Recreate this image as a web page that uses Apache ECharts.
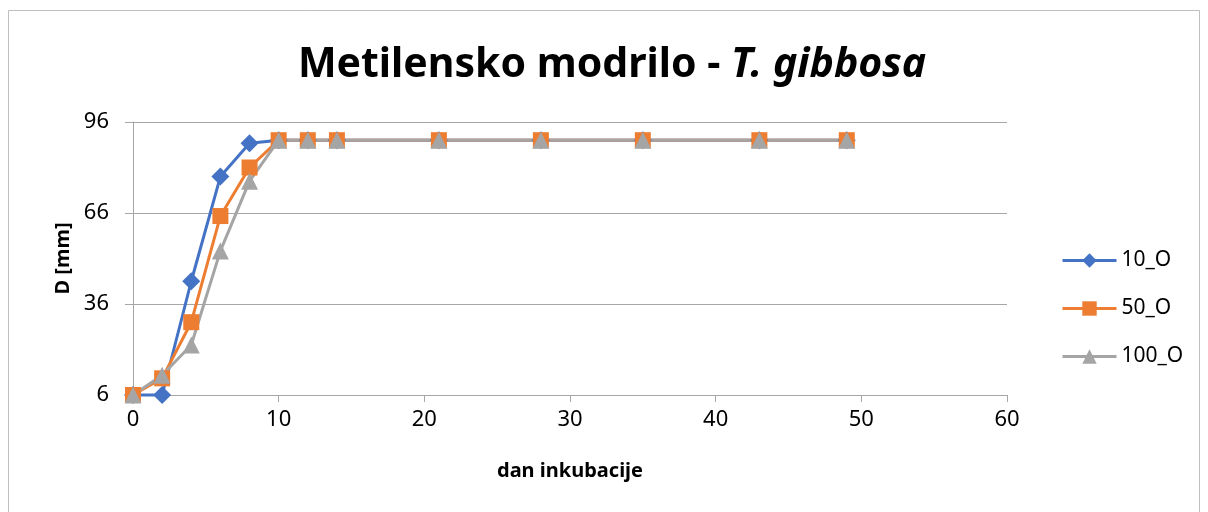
<!DOCTYPE html>
<html>
<head>
<meta charset="utf-8">
<script src="https://cdn.jsdelivr.net/npm/echarts@6/dist/echarts.min.js"></script>
<style>
    html, body { margin: 0; padding: 0; background: #fff; }
    #chart { width: 1208px; height: 512px; }
</style>
</head>
<body>
<div id="chart"></div>
<script>
// dan inkubacije
const days = [0, 2, 4, 6, 8, 10, 12, 14, 21, 28, 35, 43, 49];
// D [mm]
const d10 = [6, 6, 43.5, 78, 89, 90, 90, 90, 90, 90, 90, 90, 90];
const d50 = [6, 11.5, 30, 65, 81, 90, 90, 90, 90, 90, 90, 90, 90];
const d100 = [6, 12.5, 22.5, 53.5, 76.5, 90, 90, 90, 90, 90, 90, 90, 90];
const seriesNames = ['10_O', '50_O', '100_O'];

function pairs(values) {
    return days.map(function (x, i) { return [x, values[i]]; });
}

const chart = echarts.init(document.getElementById('chart'));
const font = 'Noto Sans';

chart.setOption({
    animation: false,
    color: ['#4472C4', '#ED7D31', '#A5A5A5'],
    title: {
        text: 'Metilensko modrilo - {i|T. gibbosa}',
        left: 607,
        textAlign: 'center',
        top: 40,
        textStyle: {
            fontFamily: font,
            fontSize: 41,
            fontWeight: 'bold',
            color: '#000',
            rich: {
                i: { fontFamily: font, fontSize: 41, fontWeight: 'bold', fontStyle: 'italic', color: '#000' }
            }
        }
    },
    graphic: [{
        type: 'rect',
        shape: { x: 8.5, y: 10.5, width: 1191, height: 520 },
        style: { fill: null, stroke: '#bfbfbf', lineWidth: 1 },
        silent: true
    }],
    legend: {
        orient: 'vertical',
        left: 1056,
        top: 245,
        itemWidth: 54,
        itemHeight: 18,
        itemGap: 27,
        data: seriesNames,
        lineStyle: { width: 3 },
        textStyle: { fontFamily: font, fontSize: 21, color: '#000' }
    },
    grid: {
        left: 133,
        right: 201,
        top: 122,
        bottom: 117
    },
    xAxis: {
        type: 'value',
        min: 0,
        max: 60,
        interval: 10,
        name: 'dan inkubacije',
        nameLocation: 'middle',
        nameGap: 66,
        nameTextStyle: { fontFamily: font, fontSize: 20, fontWeight: 'bold', color: '#000' },
        axisLine: { show: true, lineStyle: { color: '#a6a6a6', width: 1 } },
        axisTick: { show: true, length: 7, lineStyle: { color: '#a6a6a6' } },
        axisLabel: { fontFamily: font, fontSize: 22, color: '#000', margin: 14 },
        splitLine: { show: false }
    },
    yAxis: {
        type: 'value',
        min: 6,
        max: 96,
        interval: 30,
        name: 'D [mm]',
        nameLocation: 'middle',
        nameGap: 42,
        nameRotate: 90,
        nameTextStyle: { fontFamily: font, fontSize: 20, fontWeight: 'bold', color: '#000' },
        axisLine: { show: true, lineStyle: { color: '#a6a6a6', width: 1 } },
        axisTick: { show: true, length: 8, lineStyle: { color: '#a6a6a6' } },
        axisLabel: { fontFamily: font, fontSize: 22, color: '#000', margin: 24 },
        splitLine: { show: true, lineStyle: { color: '#a6a6a6', width: 1 } }
    },
    series: [
        {
            name: seriesNames[0],
            type: 'line',
            data: pairs(d10),
            symbol: 'diamond',
            symbolSize: 18,
            clip: false,
            lineStyle: { width: 3 }
        },
        {
            name: seriesNames[1],
            type: 'line',
            data: pairs(d50),
            symbol: 'rect',
            symbolSize: 16,
            clip: false,
            lineStyle: { width: 3 }
        },
        {
            name: seriesNames[2],
            type: 'line',
            data: pairs(d100),
            symbol: 'triangle',
            symbolSize: 17,
            clip: false,
            lineStyle: { width: 3 }
        }
    ]
});

window.addEventListener('resize', function () {
    chart.resize();
});
</script>
</body>
</html>
